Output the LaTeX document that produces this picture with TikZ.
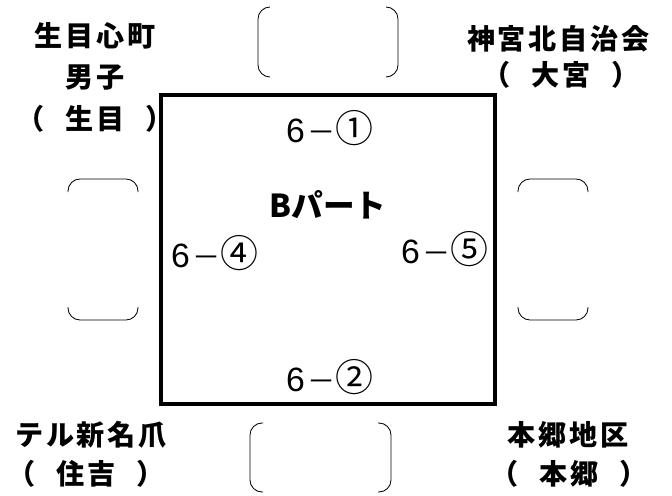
\documentclass[tikz,border=0pt]{standalone}
\usepackage{fontspec}
\usepackage{tikz}
\newfontfamily\jpfont{Noto Sans CJK JP}
\newfontfamily\jpbold[LetterSpace=10]{Noto Sans CJK JP}
\newfontfamily\numfont{Liberation Sans}
\newcommand{\courtlabel}[1]{{\numfont\fontsize{24pt}{28pt}\selectfont 6}\hspace{2pt}{\jpfont －}{\jpfont\fontsize{27pt}{29pt}\selectfont #1}}

\begin{document}
\begin{tikzpicture}[
  team/.style={inner sep=0pt, font=\jpbold\bfseries\fontsize{20pt}{24pt}\selectfont},
  court/.style={inner sep=0pt, font=\fontsize{20pt}{24pt}\selectfont},
  part/.style={inner sep=0pt, font=\jpfont\bfseries\fontsize{22.5pt}{26pt}\selectfont},
  bracket/.style={line width=0.6pt, rounded corners=0.3cm}]
\useasboundingbox (0,0) rectangle (16.8,12.375);
\draw [line width=2.6pt] (4.025,2.275) rectangle (12.375,10.0);
\draw [bracket] (6.75,12.2) -- (6.45,12.2) -- (6.45,10.45) -- (6.75,10.45);
\draw [bracket] (9.65,12.2) -- (9.95,12.2) -- (9.95,10.45) -- (9.65,10.45);
\draw [bracket] (6.575,1.8) -- (6.25,1.8) -- (6.25,0.075) -- (6.575,0.075);
\draw [bracket] (9.45,1.8) -- (9.775,1.8) -- (9.775,0.075) -- (9.45,0.075);
\draw [bracket] (1.7,7.575) -- (1.7,7.9) -- (3.45,7.9) -- (3.45,7.575);
\draw [bracket] (1.7,4.7) -- (1.7,4.375) -- (3.45,4.375) -- (3.45,4.7);
\draw [bracket] (12.95,7.575) -- (12.95,7.9) -- (14.7,7.9) -- (14.7,7.575);
\draw [bracket] (12.95,4.7) -- (12.95,4.375) -- (14.7,4.375) -- (14.7,4.7);
\draw (2.375,11.49) node [team] (ikime1) {生目心町};
\draw (2.375,10.44) node [team] (ikime2) {男子};
\draw (2.375,9.41) node [team] (ikime3) {（\hspace{15pt}生目\hspace{15pt}）};
\draw (13.96,11.41) node [team] (jingu1) {神宮北自治会};
\draw (14.03,10.5) node [team] (jingu2) {（\hspace{15pt}大宮\hspace{15pt}）};
\draw (2.275,1.5) node [team] (teru1) {テル新名爪};
\draw (2.15,0.54) node [team] (teru2) {（\hspace{15pt}住吉\hspace{15pt}）};
\draw (14.21,1.5) node [team] (hongo1) {本郷地区};
\draw (14.23,0.54) node [team] (hongo2) {（\hspace{15pt}本郷\hspace{15pt}）};
\draw (8.2,7.25) node [part] (bpart) {Bパート};
\draw (8.25,9.175) node [court] (c1) {\courtlabel{①}};
\draw (8.25,2.95) node [court] (c2) {\courtlabel{②}};
\draw (5.375,6.05) node [court] (c4) {\courtlabel{④}};
\draw (11.125,6.15) node [court] (c5) {\courtlabel{⑤}};
\end{tikzpicture}
\end{document}
